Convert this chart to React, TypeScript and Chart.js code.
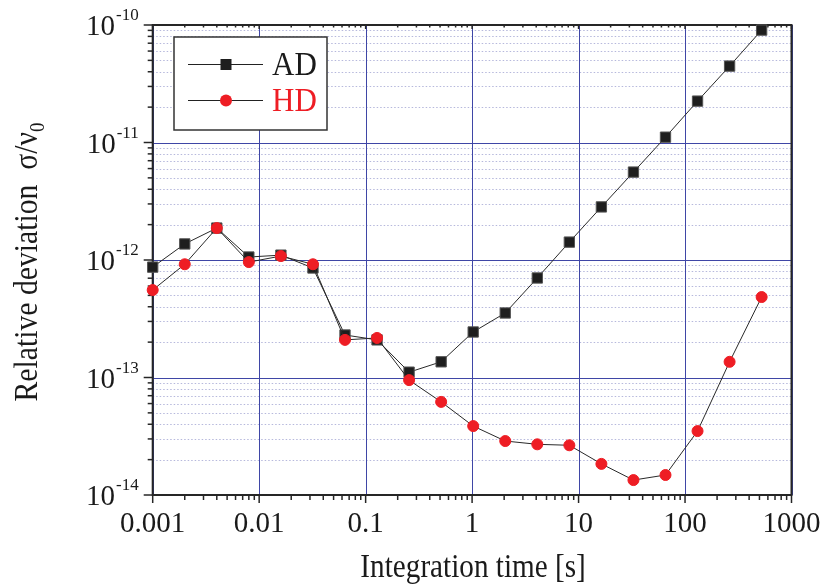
import { useEffect, useRef } from 'react';
import { Chart, registerables } from 'chart.js';

Chart.register(...registerables);

const integrationTimes = [0.001, 0.002, 0.004, 0.008, 0.016, 0.032, 0.064, 0.128, 0.256, 0.512, 1.024, 2.048, 4.096, 8.192, 16.384, 32.768, 65.536, 131.072, 262.144, 524.288];
const adValues = [8.7e-13, 1.37e-12, 1.87e-12, 1.06e-12, 1.1e-12, 8.55e-13, 2.3e-13, 2.09e-13, 1.11e-13, 1.36e-13, 2.44e-13, 3.54e-13, 7.03e-13, 1.42e-12, 2.83e-12, 5.6e-12, 1.11e-11, 2.25e-11, 4.47e-11, 9.05e-11];
const hdValues = [5.55e-13, 9.2e-13, 1.87e-12, 9.6e-13, 1.08e-12, 9.2e-13, 2.09e-13, 2.17e-13, 9.5e-14, 6.2e-14, 3.86e-14, 2.88e-14, 2.7e-14, 2.65e-14, 1.84e-14, 1.34e-14, 1.48e-14, 3.5e-14, 1.36e-13, 4.84e-13];
const xTickValues = [0.001, 0.01, 0.1, 1, 10, 100, 1000];
const xTickLabels = ['0.001', '0.01', '0.1', '1', '10', '100', '1000'];
const yTickExponents = [-14, -13, -12, -11, -10];
const seriesNames = ['AD', 'HD'];
const xTitle = 'Integration time [s]';
const yTitleMain = 'Relative deviation  \u03C3/\u03BD';
const yTitleSub = '0';

const SERIF = '"Liberation Serif", "DejaVu Serif", serif';
const MAJOR = '#3f46a6';
const MINOR = '#b6b8dc';
const FRAME = '#262626';
const RED = '#ee1d24';

const decorations = {
  id: 'decorations',
  beforeDraw(chart: any) {
    const ctx = chart.ctx;
    ctx.save();
    ctx.fillStyle = '#ffffff';
    ctx.fillRect(0, 0, chart.width, chart.height);
    ctx.restore();
  },
  beforeDatasetsDraw(chart: any) {
    const ctx = chart.ctx;
    const xs = chart.scales.x;
    const ys = chart.scales.y;
    const { left, right, top, bottom } = chart.chartArea;
    ctx.save();
    ctx.strokeStyle = MINOR;
    ctx.lineWidth = 1;
    ctx.setLineDash([1.5, 2]);
    for (let e = yTickExponents[0]; e < yTickExponents[yTickExponents.length - 1]; e++) {
      for (let m = 2; m <= 9; m++) {
        const py = Math.round(ys.getPixelForValue(m * Math.pow(10, e))) + 0.5;
        ctx.beginPath();
        ctx.moveTo(left, py);
        ctx.lineTo(right, py);
        ctx.stroke();
      }
    }
    ctx.setLineDash([]);
    ctx.strokeStyle = MAJOR;
    ctx.lineWidth = 1;
    yTickExponents.forEach((e) => {
      const py = Math.round(ys.getPixelForValue(Math.pow(10, e))) + 0.5;
      ctx.beginPath();
      ctx.moveTo(left, py);
      ctx.lineTo(right, py);
      ctx.stroke();
    });
    xTickValues.forEach((v) => {
      const px = Math.round(xs.getPixelForValue(v)) + 0.5;
      ctx.beginPath();
      ctx.moveTo(px, top);
      ctx.lineTo(px, bottom);
      ctx.stroke();
    });
    ctx.strokeStyle = FRAME;
    ctx.lineWidth = 2;
    ctx.strokeRect(left, top, right - left, bottom - top);
    ctx.lineWidth = 1.5;
    yTickExponents.forEach((e, i) => {
      const py = ys.getPixelForValue(Math.pow(10, e));
      ctx.beginPath();
      ctx.moveTo(left - 9, py);
      ctx.lineTo(left, py);
      ctx.stroke();
      if (i < yTickExponents.length - 1) {
        for (let m = 2; m <= 9; m++) {
          const pm = ys.getPixelForValue(m * Math.pow(10, e));
          ctx.beginPath();
          ctx.moveTo(left - 5, pm);
          ctx.lineTo(left, pm);
          ctx.stroke();
        }
      }
    });
    xTickValues.forEach((v, i) => {
      const px = xs.getPixelForValue(v);
      ctx.beginPath();
      ctx.moveTo(px, bottom);
      ctx.lineTo(px, bottom + 8);
      ctx.stroke();
      ctx.beginPath();
      ctx.moveTo(px, top);
      ctx.lineTo(px, top + 4);
      ctx.stroke();
      if (i < xTickValues.length - 1) {
        for (let m = 2; m <= 9; m++) {
          const pm = xs.getPixelForValue(m * v);
          ctx.beginPath();
          ctx.moveTo(pm, bottom);
          ctx.lineTo(pm, bottom + 5);
          ctx.stroke();
          ctx.beginPath();
          ctx.moveTo(pm, top);
          ctx.lineTo(pm, top + 2.5);
          ctx.stroke();
        }
      }
    });
    ctx.restore();
  },
  afterDatasetsDraw(chart: any) {
    const ctx = chart.ctx;
    const xs = chart.scales.x;
    const ys = chart.scales.y;
    const { left, right, bottom } = chart.chartArea;
    ctx.save();
    ctx.fillStyle = '#1a1a1a';
    ctx.font = `29px ${SERIF}`;
    ctx.textAlign = 'center';
    ctx.textBaseline = 'alphabetic';
    xTickValues.forEach((v, i) => {
      ctx.fillText(xTickLabels[i], xs.getPixelForValue(v), bottom + 37);
    });
    yTickExponents.forEach((e) => {
      const py = ys.getPixelForValue(Math.pow(10, e));
      const expText = String(e);
      ctx.font = `17px ${SERIF}`;
      ctx.textAlign = 'right';
      ctx.fillText(expText, left - 14, py - 5);
      const ew = ctx.measureText(expText).width;
      ctx.font = `29px ${SERIF}`;
      ctx.fillText('10', left - 14 - ew - 1, py + 10);
    });
    // x title (slightly condensed)
    ctx.save();
    ctx.translate((left + right) / 2 + 1, 577);
    ctx.scale(0.885, 1);
    ctx.font = `33px ${SERIF}`;
    ctx.textAlign = 'center';
    ctx.fillText(xTitle, 0, 0);
    ctx.restore();
    // y title
    ctx.save();
    ctx.translate(37, 262);
    ctx.rotate(-Math.PI / 2);
    ctx.scale(0.9, 1);
    ctx.font = `33px ${SERIF}`;
    const mw = ctx.measureText(yTitleMain).width;
    ctx.font = `21px ${SERIF}`;
    const sw = ctx.measureText(yTitleSub).width;
    const start = -(mw + sw) / 2;
    ctx.textAlign = 'left';
    ctx.font = `33px ${SERIF}`;
    ctx.fillText(yTitleMain, start, 0);
    ctx.font = `21px ${SERIF}`;
    ctx.fillText(yTitleSub, start + mw, 7);
    ctx.restore();
    // legend
    const bx = 174, by = 37, bw = 153, bh = 93;
    ctx.fillStyle = '#ffffff';
    ctx.fillRect(bx, by, bw, bh);
    ctx.strokeStyle = '#333333';
    ctx.lineWidth = 1.5;
    ctx.strokeRect(bx, by, bw, bh);
    const rows = [64, 100];
    ctx.lineWidth = 1;
    ctx.strokeStyle = '#222222';
    rows.forEach((ry) => {
      ctx.beginPath();
      ctx.moveTo(188, ry + 0.5);
      ctx.lineTo(263, ry + 0.5);
      ctx.stroke();
    });
    ctx.fillStyle = '#1e1e1e';
    ctx.fillRect(226 - 5.5, rows[0] - 5, 11, 11);
    ctx.fillStyle = RED;
    ctx.beginPath();
    ctx.arc(226, rows[1] + 0.5, 6, 0, Math.PI * 2);
    ctx.fill();
    ctx.save();
    ctx.translate(272, 0);
    ctx.scale(0.94, 1);
    ctx.font = `33px ${SERIF}`;
    ctx.textAlign = 'left';
    ctx.fillStyle = '#1a1a1a';
    ctx.fillText(seriesNames[0], 0, rows[0] + 11);
    ctx.fillStyle = RED;
    ctx.fillText(seriesNames[1], 0, rows[1] + 11);
    ctx.restore();
    ctx.restore();
  },
};

export default function App() {
  const canvasRef = useRef<HTMLCanvasElement | null>(null);
  useEffect(() => {
    if (!canvasRef.current) return;
    const chart = new Chart(canvasRef.current, {
      type: 'line',
      data: {
        datasets: [
          {
            label: seriesNames[0],
            data: integrationTimes.map((t, i) => ({ x: t, y: adValues[i] })),
            borderColor: '#2a2a2a',
            borderWidth: 1,
            pointStyle: 'rect',
            pointRadius: 7.3,
            pointBackgroundColor: '#1e1e1e',
            pointBorderColor: '#555555',
            pointBorderWidth: 1,
            clip: false,
            order: 2,
          } as any,
          {
            label: seriesNames[1],
            data: integrationTimes.map((t, i) => ({ x: t, y: hdValues[i] })),
            borderColor: '#2a2a2a',
            borderWidth: 1,
            pointStyle: 'circle',
            pointRadius: 5.5,
            pointBackgroundColor: RED,
            pointBorderColor: RED,
            pointBorderWidth: 1,
            clip: false,
            order: 1,
          } as any,
        ],
      },
      options: {
        animation: false,
        responsive: false,
        devicePixelRatio: 1,
        layout: { padding: { left: 152.7, right: 30.5, top: 25, bottom: 93 } },
        plugins: { legend: { display: false }, tooltip: { enabled: false } },
        scales: {
          x: { type: 'logarithmic', min: 0.001, max: 1000, display: false },
          y: { type: 'logarithmic', min: 1e-14, max: 1e-10, display: false },
        },
      },
      plugins: [decorations],
    });
    return () => chart.destroy();
  }, []);
  return (
    <div style={{ position: 'absolute', left: 0, top: 0, width: 822, height: 588 }}>
      <canvas ref={canvasRef} width={822} height={588} style={{ display: 'block' }} />
    </div>
  );
}
